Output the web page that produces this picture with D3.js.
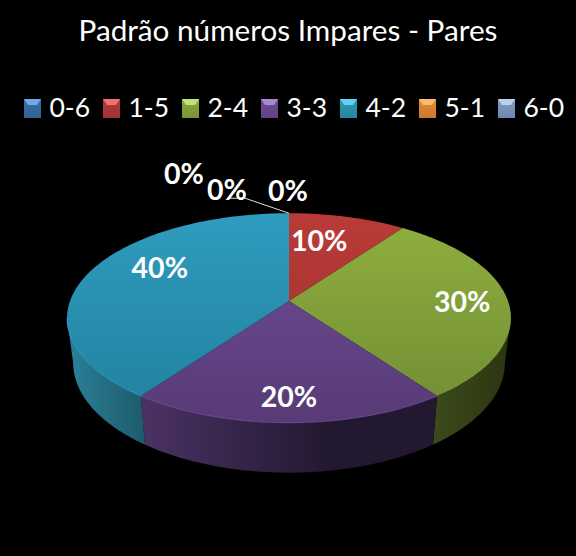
<!DOCTYPE html>
<html>
<head>
<meta charset="utf-8">
<script src="https://cdn.jsdelivr.net/npm/d3@7"></script>
<style>
  html, body { margin: 0; padding: 0; background: #000; }
  svg { display: block; }
  text { font-family: Lato, "Open Sans", sans-serif; fill: #fff; }
</style>
</head>
<body>
<svg></svg>
<script>
const width = 576;
const height = 556;

// data
const categories = ["0-6", "1-5", "2-4", "3-3", "4-2", "5-1", "6-0"];
const values = [0, 10, 30, 20, 40, 0, 0];
const labels = ["0%", "10%", "30%", "20%", "40%", "0%", "0%"];
const title = "Padrão números Impares - Pares";

// colours per category: light, dark for the top, light, dark for the side
const topLight = ["#4f81bd", "#b93b38", "#90b03f", "#6f4e97", "#2e9cbf", "#f79646", "#8fa8d0"];
const topDark = ["#3a659b", "#9c2f2d", "#6f8c33", "#583a76", "#21809e", "#d9782c", "#6f8ab5"];
const sideLight = ["#2c4a70", "#6e2322", "#3c4a1b", "#4b3264", "#2a8199", "#a85f22", "#53688a"];
const sideDark = ["#1f3450", "#4a1716", "#2b3512", "#221830", "#1e5a6b", "#7a4418", "#3c4b64"];
const legendTop = ["#6fa8ee", "#ee7370", "#c3e27a", "#a98ad0", "#5fd0ee", "#ffb870", "#bcd0f0"];
const legendFill = ["#3a6ea8", "#b5393a", "#8aa83f", "#6d4c94", "#2f97b3", "#e58a32", "#7f9ac4"];

// label nudges in px from the default spot on the slice
const labelDx = [0, -18, -2, 0, 31, -43, 0];
const labelDy = [0, 8, 0, 1, -10, -17, -1];

const cx = 289;
const cy = 301;
const persp = 0.162;

// ground plane to screen, with a little perspective
const xTop = d3.scaleLinear().domain([-1, 1]).range([cx - 219, cx + 219]);
const yTop = d3.scaleLinear().domain([-1, 1]).range([cy - 102, cy + 102]);
const xLow = d3.scaleLinear().domain([-1, 1]).range([cx - 213, cx + 213]);
const yLow = d3.scaleLinear().domain([-1, 1]).range([345 - 107, 345 + 107]);

function project(a, f, xs, ys) {
    let u = Math.sin(a) * f;
    let v = -Math.cos(a) * f;
    let w = 1 / (1 - persp * v);
    return [xs(u * w), ys(v * w)];
}

function arcPoints(a0, a1, xs, ys) {
    let n = Math.max(2, Math.ceil((a1 - a0) / 0.02));
    return d3.range(n + 1).map(i => project(a0 + (a1 - a0) * i / n, 1, xs, ys));
}

const svg = d3.select("svg").attr("width", width).attr("height", height);
svg.append("rect").attr("width", width).attr("height", height).attr("fill", "#000");
const defs = svg.append("defs");
const line = d3.line();

categories.forEach((c, i) => {
    let t = defs.append("linearGradient").attr("id", "top" + i)
        .attr("gradientUnits", "userSpaceOnUse")
        .attr("x1", 0).attr("x2", 0).attr("y1", cy - 88).attr("y2", cy + 122);
    t.append("stop").attr("offset", 0).attr("stop-color", topLight[i]);
    t.append("stop").attr("offset", 1).attr("stop-color", topDark[i]);

    let s = defs.append("linearGradient").attr("id", "side" + i)
        .attr("gradientUnits", "userSpaceOnUse")
        .attr("x1", i == 4 ? 67 : i == 3 ? 142 : 433)
        .attr("x2", i == 4 ? 146 : i == 3 ? 330 : 511)
        .attr("y1", 0).attr("y2", 0);
    s.append("stop").attr("offset", 0).attr("stop-color", sideLight[i]);
    s.append("stop").attr("offset", 1).attr("stop-color", sideDark[i]);

    let k = defs.append("linearGradient").attr("id", "key" + i)
        .attr("x1", 0).attr("x2", 0).attr("y1", 0).attr("y2", 1);
    k.append("stop").attr("offset", 0).attr("stop-color", legendFill[i]);
    k.append("stop").attr("offset", 1).attr("stop-color", d3.color(legendFill[i]).darker(0.35));
});

const pie = d3.pie().sort(null).value(d => d);
const slices = pie(values);

// visible part of the wall, where the rim turns away
const wallFrom = Math.acos(-persp);
const wallTo = 2 * Math.PI - wallFrom;

// side walls
svg.append("g").selectAll("path")
    .data(slices.filter(d => d.value > 0 && d.endAngle > wallFrom && d.startAngle < wallTo))
    .join("path")
    .attr("d", d => {
        let a0 = Math.max(d.startAngle, wallFrom);
        let a1 = Math.min(d.endAngle, wallTo);
        return line(arcPoints(a0, a1, xTop, yTop).concat(arcPoints(a0, a1, xLow, yLow).reverse())) + "Z";
    })
    .attr("fill", d => "url(#side" + d.index + ")");

// top of the pie
svg.append("g").selectAll("path")
    .data(slices.filter(d => d.value > 0))
    .join("path")
    .attr("d", d => line([[xTop(0), yTop(0)]].concat(arcPoints(d.startAngle, d.endAngle, xTop, yTop))) + "Z")
    .attr("fill", d => "url(#top" + d.index + ")");

// thin light edge along the front rim
svg.append("g").selectAll("path")
    .data(slices.filter(d => d.index == 3 || d.index == 4))
    .join("path")
    .attr("d", d => line(arcPoints(Math.max(d.startAngle, wallFrom), Math.min(d.endAngle, wallTo), xTop, yTop)))
    .attr("fill", "none")
    .attr("stroke", d => d3.color(topLight[d.index]).brighter(0.8))
    .attr("stroke-width", 0.7)
    .attr("stroke-opacity", 0.7);

// leader line for the zero labels
let leaderStart = project(0, 1, xTop, yTop);
svg.append("path")
    .attr("d", line([leaderStart, [leaderStart[0] - 44, leaderStart[1] - 15], [leaderStart[0] - 62, leaderStart[1] - 15]]))
    .attr("fill", "none")
    .attr("stroke", "#ddd")
    .attr("stroke-width", 1);

// slice labels
const labelSpot = d => {
    let a = (d.startAngle + d.endAngle) / 2;
    if (d.value > 0) return project(a, 0.8, xTop, yTop);
    // zero slices sit just outside the rim
    let p = project(0, 1, xTop, yTop);
    let shift = d.index == 0 ? -1 : -62;
    return [p[0] + shift, p[1] - 23];
};

svg.append("g").selectAll("text")
    .data(slices)
    .join("text")
    .attr("x", d => labelSpot(d)[0] + labelDx[d.index])
    .attr("y", d => labelSpot(d)[1] + labelDy[d.index])
    .attr("text-anchor", "middle")
    .attr("dominant-baseline", "central")
    .attr("font-size", 28.5)
    .attr("font-weight", 700)
    .text((d, i) => labels[i]);

// title
svg.append("text")
    .attr("x", 288)
    .attr("y", 41)
    .attr("text-anchor", "middle")
    .attr("font-size", 29.7)
    .text(title);

// legend
const legendX = d3.scaleBand().domain(categories).range([24, 24 + 79 * 7]);
const legend = svg.append("g").selectAll("g")
    .data(categories)
    .join("g")
    .attr("transform", d => "translate(" + legendX(d) + ",99)");

legend.append("rect")
    .attr("width", 17).attr("height", 19)
    .attr("fill", (d, i) => "url(#key" + i + ")");
legend.append("path")
    .attr("d", line([[0, 0], [17, 0], [13, 6], [4, 6]]) + "Z")
    .attr("fill", (d, i) => legendTop[i]);
legend.append("text")
    .attr("x", 25.5)
    .attr("y", 18)
    .attr("font-size", 26.5)
    .text(d => d);
</script>
</body>
</html>
